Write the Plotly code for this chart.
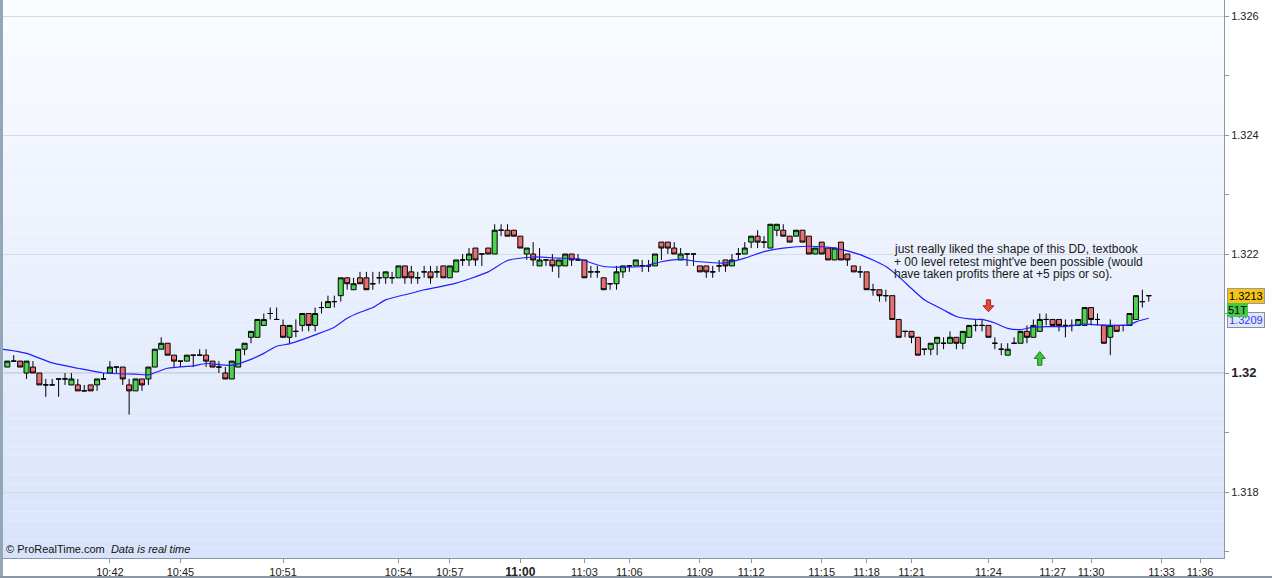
import plotly.graph_objects as go

# ---------------- data ----------------
candle_idx = list(range(179))

open_ = [
 1.3201,1.3202,1.3202,1.3200,1.3201,1.3200,1.3198,1.3198,1.3199,1.3199,
 1.3198,1.3198,1.3197,1.3198,1.3198,1.3199,1.3200,1.3201,1.3201,1.3198,
 1.3197,1.3199,1.3199,1.3201,1.3204,1.3205,1.3203,1.3202,1.3202,1.3203,
 1.3203,1.3203,1.3202,1.3201,1.3200,1.3199,1.3201,1.3204,1.3206,1.3206,
 1.3208,1.3210,1.3209,1.3208,1.3206,1.3207,1.3208,1.3210,1.3208,1.3211,
 1.3211,1.3212,1.3213,1.3216,1.3214,1.3216,1.3216,1.3215,1.3216,1.3216,
 1.3216,1.3216,1.3218,1.3217,1.3216,1.3217,1.3217,1.3217,1.3218,1.3216,
 1.3217,1.3219,1.3219,1.3221,1.3220,1.3221,1.3220,1.3224,1.3224,1.3224,
 1.3223,1.3220,1.3220,1.3218,1.3219,1.3219,1.3218,1.3218,1.3220,1.3219,
 1.3219,1.3217,1.3217,1.3216,1.3215,1.3215,1.3217,1.3218,1.3218,1.3218,
 1.3218,1.3218,1.3222,1.3222,1.3221,1.3219,1.3220,1.3220,1.3218,1.3218,
 1.3217,1.3218,1.3219,1.3218,1.3220,1.3220,1.3222,1.3223,1.3222,1.3221,
 1.3224,1.3224,1.3223,1.3223,1.3224,1.3223,1.3220,1.3222,1.3221,1.3219,
 1.3222,1.3220,1.3218,1.3217,1.3217,1.3214,1.3214,1.3213,1.3213,1.3209,
 1.3207,1.3207,1.3206,1.3204,1.3204,1.3205,1.3205,1.3205,1.3206,1.3205,
 1.3206,1.3208,1.3208,1.3208,1.3205,1.3204,1.3203,1.3205,1.3205,1.3207,
 1.3206,1.3207,1.3209,1.3209,1.3209,1.3208,1.3208,1.3208,1.3208,1.3211,
 1.3209,1.3208,1.3206,1.3208,1.3208,1.3208,1.3209,1.3212,1.3213]

high = [
 1.3202,1.3203,1.3202,1.3202,1.3202,1.3200,1.3199,1.3199,1.3199,1.3200,
 1.3200,1.3199,1.3198,1.3198,1.3199,1.3200,1.3202,1.3201,1.3201,1.3199,
 1.3199,1.3199,1.3201,1.3204,1.3206,1.3205,1.3203,1.3202,1.3203,1.3203,
 1.3204,1.3204,1.3202,1.3202,1.3201,1.3202,1.3204,1.3205,1.3207,1.3209,
 1.3210,1.3211,1.3211,1.3209,1.3208,1.3209,1.3210,1.3210,1.3211,1.3212,
 1.3213,1.3213,1.3216,1.3216,1.3216,1.3217,1.3217,1.3217,1.3217,1.3217,
 1.3217,1.3218,1.3218,1.3218,1.3217,1.3218,1.3218,1.3218,1.3218,1.3218,
 1.3219,1.3220,1.3221,1.3221,1.3220,1.3221,1.3225,1.3225,1.3225,1.3224,
 1.3223,1.3221,1.3222,1.3221,1.3219,1.3220,1.3219,1.3220,1.3220,1.3220,
 1.3219,1.3218,1.3218,1.3216,1.3215,1.3218,1.3218,1.3218,1.3219,1.3219,
 1.3219,1.3220,1.3222,1.3222,1.3222,1.3221,1.3220,1.3220,1.3218,1.3218,
 1.3218,1.3219,1.3219,1.3220,1.3221,1.3222,1.3223,1.3224,1.3223,1.3225,
 1.3225,1.3225,1.3223,1.3224,1.3224,1.3223,1.3221,1.3222,1.3221,1.3221,
 1.3222,1.3220,1.3218,1.3218,1.3217,1.3215,1.3214,1.3214,1.3213,1.3209,
 1.3207,1.3207,1.3206,1.3204,1.3205,1.3206,1.3206,1.3207,1.3206,1.3207,
 1.3208,1.3209,1.3209,1.3208,1.3206,1.3205,1.3205,1.3206,1.3207,1.3208,
 1.3209,1.3210,1.3210,1.3209,1.3209,1.3209,1.3209,1.3209,1.3211,1.3211,
 1.3210,1.3208,1.3209,1.3208,1.3208,1.3210,1.3213,1.3214,1.3213]

low = [
 1.3201,1.3202,1.3201,1.3199,1.3200,1.3198,1.3196,1.3198,1.3196,1.3198,
 1.3198,1.3197,1.3197,1.3197,1.3197,1.3199,1.3200,1.3200,1.3198,1.3193,
 1.3197,1.3197,1.3198,1.3201,1.3204,1.3203,1.3201,1.3201,1.3202,1.3201,
 1.3203,1.3201,1.3201,1.3200,1.3199,1.3199,1.3201,1.3203,1.3205,1.3206,
 1.3208,1.3209,1.3209,1.3206,1.3205,1.3206,1.3207,1.3207,1.3207,1.3210,
 1.3211,1.3211,1.3212,1.3214,1.3214,1.3215,1.3214,1.3214,1.3215,1.3215,
 1.3215,1.3216,1.3215,1.3215,1.3215,1.3216,1.3215,1.3216,1.3216,1.3216,
 1.3217,1.3218,1.3218,1.3218,1.3218,1.3220,1.3220,1.3223,1.3223,1.3223,
 1.3221,1.3219,1.3218,1.3218,1.3218,1.3217,1.3216,1.3218,1.3218,1.3219,
 1.3216,1.3216,1.3216,1.3214,1.3214,1.3214,1.3216,1.3217,1.3218,1.3217,
 1.3217,1.3218,1.3219,1.3220,1.3220,1.3219,1.3218,1.3218,1.3217,1.3216,
 1.3216,1.3217,1.3217,1.3218,1.3219,1.3220,1.3221,1.3221,1.3221,1.3221,
 1.3223,1.3223,1.3222,1.3223,1.3222,1.3220,1.3220,1.3220,1.3219,1.3219,
 1.3219,1.3218,1.3217,1.3216,1.3214,1.3213,1.3212,1.3212,1.3209,1.3206,
 1.3206,1.3205,1.3203,1.3203,1.3203,1.3203,1.3204,1.3205,1.3204,1.3204,
 1.3206,1.3207,1.3207,1.3206,1.3204,1.3203,1.3203,1.3205,1.3205,1.3205,
 1.3206,1.3207,1.3208,1.3208,1.3207,1.3206,1.3207,1.3208,1.3208,1.3208,
 1.3208,1.3205,1.3203,1.3207,1.3207,1.3208,1.3209,1.3211,1.3212]

close = [
 1.3202,1.3202,1.3201,1.3202,1.3200,1.3198,1.3198,1.3198,1.3199,1.3199,
 1.3199,1.3197,1.3197,1.3197,1.3199,1.3199,1.3201,1.3201,1.3199,1.3197,
 1.3199,1.3198,1.3201,1.3204,1.3205,1.3203,1.3202,1.3202,1.3203,1.3203,
 1.3203,1.3202,1.3201,1.3201,1.3199,1.3202,1.3204,1.3205,1.3207,1.3209,
 1.3209,1.3210,1.3209,1.3206,1.3208,1.3207,1.3210,1.3208,1.3210,1.3211,
 1.3212,1.3212,1.3216,1.3215,1.3215,1.3215,1.3214,1.3215,1.3216,1.3217,
 1.3216,1.3218,1.3216,1.3216,1.3216,1.3217,1.3216,1.3217,1.3216,1.3218,
 1.3219,1.3219,1.3220,1.3219,1.3220,1.3220,1.3224,1.3224,1.3223,1.3223,
 1.3221,1.3221,1.3219,1.3219,1.3219,1.3218,1.3219,1.3220,1.3219,1.3219,
 1.3216,1.3217,1.3217,1.3214,1.3215,1.3217,1.3218,1.3218,1.3219,1.3218,
 1.3218,1.3220,1.3221,1.3221,1.3220,1.3220,1.3220,1.3220,1.3217,1.3217,
 1.3217,1.3218,1.3218,1.3219,1.3220,1.3221,1.3223,1.3222,1.3222,1.3225,
 1.3225,1.3223,1.3222,1.3224,1.3222,1.3220,1.3221,1.3220,1.3219,1.3221,
 1.3219,1.3219,1.3217,1.3217,1.3214,1.3214,1.3213,1.3213,1.3209,1.3206,
 1.3207,1.3206,1.3203,1.3204,1.3205,1.3206,1.3205,1.3206,1.3205,1.3207,
 1.3208,1.3208,1.3208,1.3206,1.3205,1.3204,1.3204,1.3205,1.3207,1.3206,
 1.3208,1.3209,1.3209,1.3208,1.3208,1.3208,1.3208,1.3209,1.3211,1.3209,
 1.3209,1.3205,1.3208,1.3207,1.3208,1.3210,1.3213,1.3212,1.3213]

# moving average, read at selected candles
ma_idx = [-1, 0, 3, 7, 11, 15, 20, 22, 25, 29, 31, 35, 38, 40, 42, 44, 46, 48, 51, 53,
          55, 57, 59, 61, 63, 65, 67, 70, 72, 75, 78, 82, 86, 89, 93, 99, 102, 105, 108, 112,
          115, 118, 121, 125, 129, 133, 137, 139, 141, 143, 146, 148, 151, 152, 154, 156, 158, 160, 162, 165,
          168, 170, 173, 175, 176, 178]
ma_val = [1.32040, 1.32039, 1.32033, 1.32017, 1.32008, 1.32000, 1.31998, 1.31997, 1.32008, 1.32012,
          1.32016, 1.32013, 1.32023, 1.32033, 1.32045, 1.32049, 1.32056, 1.32064, 1.32077, 1.32092,
          1.32102, 1.32110, 1.32123, 1.32129, 1.32134, 1.32140, 1.32144, 1.32151, 1.32158, 1.32170,
          1.32189, 1.32195, 1.32193, 1.32192, 1.32179, 1.32179, 1.32187, 1.32191, 1.32187, 1.32185,
          1.32193, 1.32204, 1.32210, 1.32213, 1.32210, 1.32199, 1.32179, 1.32162, 1.32142, 1.32123,
          1.32106, 1.32095, 1.32090, 1.32090, 1.32084, 1.32075, 1.32073, 1.32077, 1.32078, 1.32078,
          1.32082, 1.32081, 1.32080, 1.32081, 1.32086, 1.32092]

tick_idx = [16, 27, 43, 61, 69, 80, 90, 97, 108, 116, 127, 134, 141, 153, 163, 169, 180, 186]
tick_txt = ["10:42", "10:45", "10:51", "10:54", "10:57", "11:00", "11:03", "11:06", "11:09",
            "11:12", "11:15", "11:18", "11:21", "11:24", "11:27", "11:30", "11:33", "11:36"]

y_ticks = [1.318, 1.320, 1.322, 1.324, 1.326]
y_tick_txt = ["1.318", "1.32", "1.322", "1.324", "1.326"]
y_minor = [1.317, 1.319, 1.321, 1.323, 1.325]

arrow_idx = [153, 161]
arrow_tail = [1.32123, 1.32013]
arrow_tip = [1.32103, 1.32036]
arrow_fill = ["#e8463c", "#3fc43f"]
arrow_line = ["#a8261e", "#1f7d1f"]

note_lines = ["just really liked the shape of this DD, textbook",
              "+ 00 level retest might've been possible (would",
              "have taken profits there at +5 pips or so)."]

last_price_txt = "1.3213"
ma_last_txt = "1.3209"
ticks_txt = "51T"

# ---------------- figure ----------------
W, H = 1272, 578
ML, MR, MT, MB = 3, 48, 0, 20
FONT = "Liberation Sans, Arial, sans-serif"

fig = go.Figure()

fig.add_trace(go.Candlestick(
    x=candle_idx, open=open_, high=high, low=low, close=close,
    increasing=dict(fillcolor="#4fd24f", line=dict(color="#000000", width=1)),
    decreasing=dict(fillcolor="#e86f6f", line=dict(color="#000000", width=1)),
    whiskerwidth=0, showlegend=False, hoverinfo="skip"))

fig.add_trace(go.Scatter(x=ma_idx, y=ma_val, mode="lines",
                         line=dict(color="#1f1fff", width=1.2, shape="spline", smoothing=0.6),
                         showlegend=False, hoverinfo="skip"))

shapes = []
# background gradient
nb = 60
top_c = (251, 252, 255)
bot_c = (216, 227, 251)
for k in range(nb):
    t = (k + 0.5) / nb
    c = tuple(round(top_c[j] + (bot_c[j] - top_c[j]) * t) for j in range(3))
    shapes.append(dict(type="rect", xref="paper", yref="paper",
                       x0=0, x1=1, y0=1 - (k + 1) / nb, y1=1 - k / nb,
                       fillcolor="rgb(%d,%d,%d)" % c, line=dict(width=0), layer="below"))
# darker 1.32 line
shapes.append(dict(type="line", xref="paper", yref="y", x0=0, x1=1, y0=1.32, y1=1.32,
                   line=dict(color="#b4b8c4", width=1), layer="below"))
# left border strip
shapes.append(dict(type="rect", xref="paper", yref="paper", x0=-3 / 1221, x1=0, y0=-20 / 558, y1=1,
                   fillcolor="#93a7b8", line=dict(width=0)))
# bottom frame line
shapes.append(dict(type="line", xref="paper", yref="paper", x0=-3 / 1221, x1=1 + 48 / 1221,
                   y0=-19 / 558, y1=-19 / 558, line=dict(color="#8a98a6", width=2)))
# arrows
for cx, tail, tip, fc, lc in zip(arrow_idx, arrow_tail, arrow_tip, arrow_fill, arrow_line):
    hw, hs = 0.85, 0.33
    base = tip + (tail - tip) * 0.5
    path = ("M {a},{t} L {b},{t} L {b},{m} L {c},{m} L {x},{p} L {d},{m} L {a},{m} Z"
            .format(a=cx - hs, b=cx + hs, c=cx + hw, d=cx - hw, x=cx, t=tail, m=base, p=tip))
    shapes.append(dict(type="path", xref="x", yref="y", path=path,
                       fillcolor=fc, line=dict(color=lc, width=1)))

annotations = []
for k, line in enumerate(note_lines):
    annotations.append(dict(text=line, xref="x", yref="paper", x=137.95,
                            y=1 - (249 + 12.7 * k) / 558, xanchor="left", yanchor="middle",
                            showarrow=False, font=dict(family=FONT, size=12, color="#1a1a1a")))
annotations.append(dict(text="© ProRealTime.com  <i>Data is real time</i>", xref="paper", yref="paper",
                        x=0, y=0, xanchor="left", yanchor="bottom", xshift=1, yshift=1,
                        showarrow=False, font=dict(family=FONT, size=11, color="#111111")))
annotations.append(dict(text=last_price_txt, xref="paper", yref="y", x=1, y=close[-1],
                        xanchor="left", yanchor="middle", xshift=3, showarrow=False,
                        bgcolor="#f6c417", bordercolor="#9a9a9a", borderwidth=1, borderpad=1,
                        font=dict(family=FONT, size=11, color="#000000")))
annotations.append(dict(text=ma_last_txt, xref="paper", yref="y", x=1, y=ma_val[-1],
                        xanchor="left", yanchor="middle", xshift=3, yshift=-2, showarrow=False,
                        bgcolor="#dfe6f4", bordercolor="#8090a8", borderwidth=1, borderpad=1,
                        font=dict(family=FONT, size=11, color="#2a3cff")))
annotations.append(dict(text=ticks_txt, xref="paper", yref="y", x=1, y=close[-1],
                        xanchor="left", yanchor="middle", xshift=3, yshift=-14, showarrow=False,
                        bgcolor="#45c845", borderwidth=0, borderpad=1,
                        font=dict(family=FONT, size=11, color="#000000")))

fig.update_layout(
    template="none",
    width=W, height=H, margin=dict(l=ML, r=MR, t=MT, b=MB, pad=0, autoexpand=False),
    paper_bgcolor="#ffffff", plot_bgcolor="rgba(0,0,0,0)",
    showlegend=False, boxgap=0.22, boxgroupgap=0,
    shapes=shapes, annotations=annotations,
    font=dict(family=FONT, size=11, color="#222222"),
    xaxis=dict(range=[-0.67, 189.73], rangeslider=dict(visible=False), automargin=False,
               tickmode="array", tickvals=tick_idx,
               ticktext=[('<b><span style="font-size:12px">%s</span></b>' % t) if t == "11:00" else t
                         for t in tick_txt],
               ticks="outside", ticklen=4, tickcolor="#8a98a6", tickwidth=1,
               showgrid=False, zeroline=False, showline=True, linecolor="#8a98a6", linewidth=1,
               tickfont=dict(family=FONT, size=11, color="#222222"), fixedrange=True),
    yaxis=dict(range=[1.316891, 1.326269], side="right", automargin=False,
               tickmode="array", tickvals=y_ticks,
               ticktext=[('<b><span style="font-size:13px">%s</span></b>' % t) if t == "1.32" else t
                         for t in y_tick_txt],
               ticks="outside", ticklen=4, tickcolor="#8a98a6", tickwidth=1,
               minor=dict(tickmode="array", tickvals=y_minor, ticks="outside", ticklen=4,
                          tickcolor="#8a98a6", showgrid=False),
               showgrid=True, gridcolor="#d6dae2", gridwidth=1, zeroline=False,
               showline=True, linecolor="#8a98a6", linewidth=1,
               tickfont=dict(family=FONT, size=11, color="#222222"), fixedrange=True),
)

fig.write_html("out.html", config={"displayModeBar": False},
               post_script="document.body.style.margin='0px';document.body.style.padding='0px';document.body.style.overflow='hidden';")
